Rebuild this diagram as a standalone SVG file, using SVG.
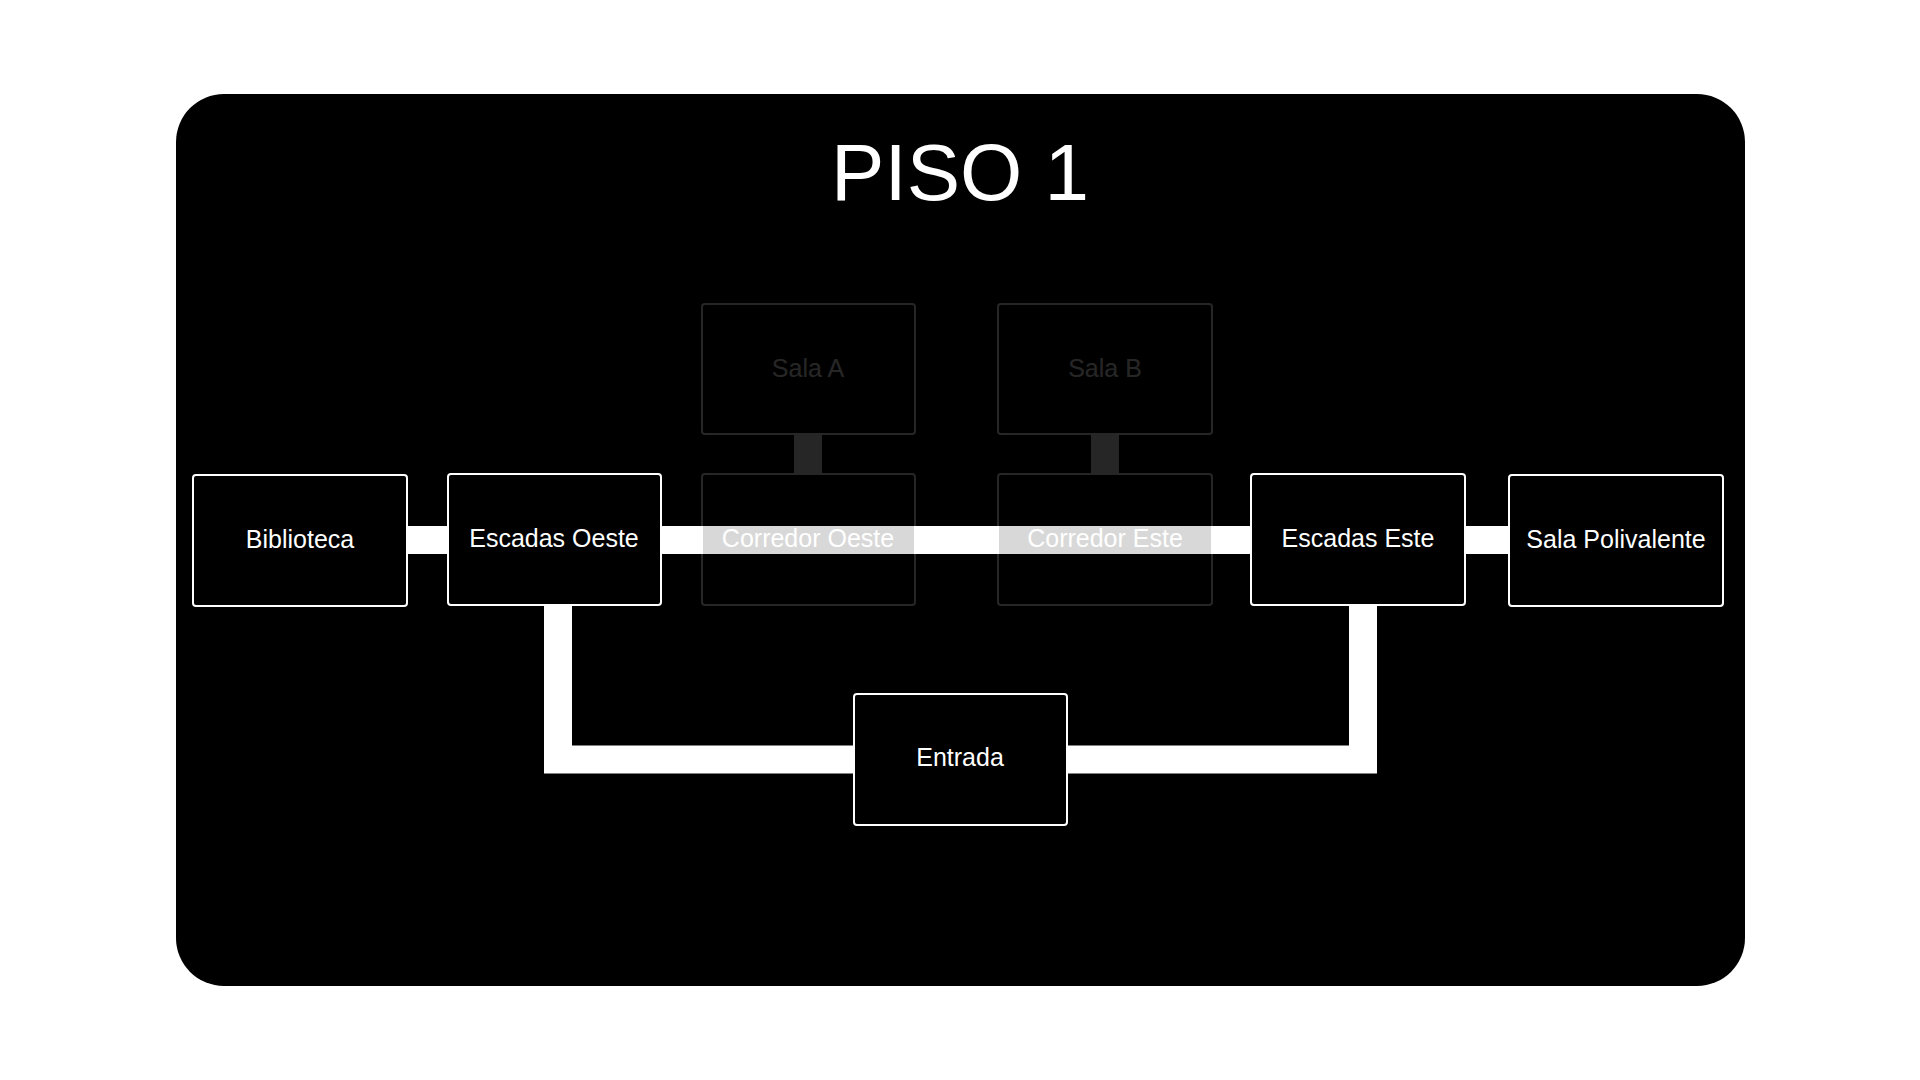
<svg xmlns="http://www.w3.org/2000/svg" width="1920" height="1080" viewBox="0 0 1920 1080">
  <style>
    .box { fill: #000000; stroke: #ffffff; stroke-width: 2; }
    .lbl { font-family: "Liberation Sans", Arial, sans-serif; font-size: 25px; fill: #ffffff; text-anchor: middle; }
    .dim { opacity: 0.15; }
    .edge { fill: none; stroke: #ffffff; stroke-width: 28; stroke-linecap: butt; stroke-linejoin: miter; }
    .edge-dim { fill: none; stroke: #262626; stroke-width: 28; stroke-linecap: butt; }
    .title { font-family: "Liberation Sans", Arial, sans-serif; font-size: 80px; fill: #ffffff; text-anchor: middle; }
  </style>
  <rect x="0" y="0" width="1920" height="1080" fill="#ffffff"/>
  <rect x="176" y="94" width="1569" height="892" rx="48" ry="48" fill="#000000"/>
  <text class="title" x="960" y="200">PISO 1</text>

  <g id="connectors">
    <path class="edge" d="M300 540 H554"/>
    <path class="edge" d="M554 540 H808"/>
    <path class="edge" d="M808 540 H1105"/>
    <path class="edge" d="M1105 540 H1358"/>
    <path class="edge" d="M1358 540 H1616"/>
    <path class="edge" d="M558 606 V759.5 H853"/>
    <path class="edge" d="M1363 606 V759.5 H1068"/>
    <path class="edge-dim" d="M808 435 V473"/>
    <path class="edge-dim" d="M1105 435 V473"/>
  </g>

  <g id="biblioteca">
    <rect class="box" x="193" y="475" width="214" height="131" rx="3"/>
    <text class="lbl" x="300" y="548">Biblioteca</text>
  </g>
  <g id="escadas-oeste">
    <rect class="box" x="448" y="474" width="213" height="131" rx="3"/>
    <text class="lbl" x="554" y="547">Escadas Oeste</text>
  </g>
  <g id="sala-a" class="dim">
    <rect class="box" x="702" y="304" width="213" height="130" rx="3"/>
    <text class="lbl" x="808" y="377">Sala A</text>
  </g>
  <g id="corredor-oeste" class="dim">
    <rect class="box" x="702" y="474" width="213" height="131" rx="3"/>
    <text class="lbl" x="808" y="547">Corredor Oeste</text>
  </g>
  <g id="sala-b" class="dim">
    <rect class="box" x="998" y="304" width="214" height="130" rx="3"/>
    <text class="lbl" x="1105" y="377">Sala B</text>
  </g>
  <g id="corredor-este" class="dim">
    <rect class="box" x="998" y="474" width="214" height="131" rx="3"/>
    <text class="lbl" x="1105" y="547">Corredor Este</text>
  </g>
  <g id="escadas-este">
    <rect class="box" x="1251" y="474" width="214" height="131" rx="3"/>
    <text class="lbl" x="1358" y="547">Escadas Este</text>
  </g>
  <g id="sala-polivalente">
    <rect class="box" x="1509" y="475" width="214" height="131" rx="3"/>
    <text class="lbl" x="1616" y="548">Sala Polivalente</text>
  </g>
  <g id="entrada">
    <rect class="box" x="854" y="694" width="213" height="131" rx="3"/>
    <text class="lbl" x="960" y="766">Entrada</text>
  </g>
</svg>
